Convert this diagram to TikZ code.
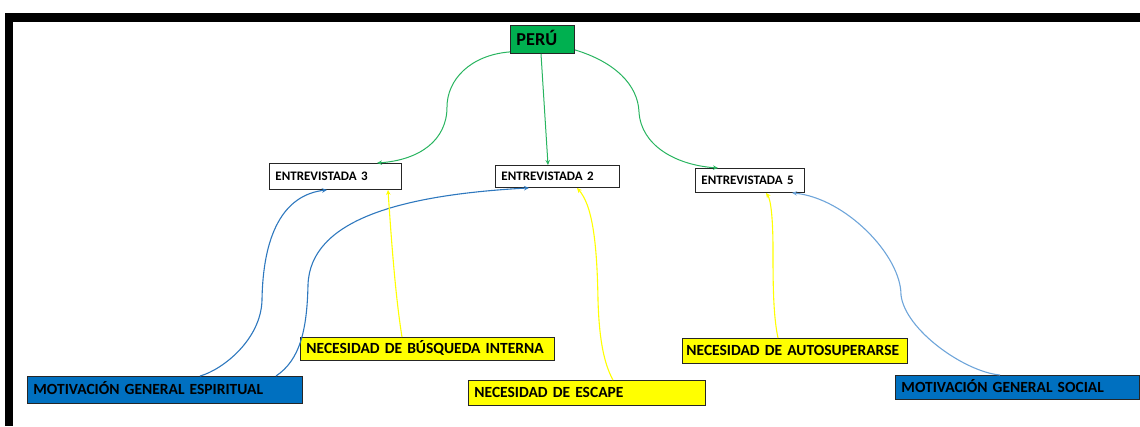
\documentclass[tikz,border=0pt]{standalone}
\usepackage{fontspec}
\setmainfont{Carlito}
\usetikzlibrary{arrows.meta}
\definecolor{pgreen}{RGB}{0,176,80}
\definecolor{gline}{RGB}{40,180,95}
\definecolor{pyellow}{RGB}{255,255,0}
\definecolor{pblue}{RGB}{0,112,192}
\definecolor{bline}{RGB}{46,120,190}
\definecolor{lbline}{RGB}{110,165,218}
\tikzset{
  box/.style={draw=black!85, line width=0.9pt, anchor=north west, inner xsep=6pt, inner ysep=0pt, align=left, text depth=0pt},
  small/.style={box, fill=white, font=\fontsize{13}{15}\selectfont\bfseries, text height=8.4pt},
  big/.style={box, font=\fontsize{15.5}{18}\selectfont\bfseries, text height=10pt},
  tipA/.style={-{Stealth[length=5pt,width=4.5pt]}},
  greenconn/.style={tipA, draw=gline, line width=1pt},
  blueconn/.style={tipA, draw=bline, line width=1.1pt},
  lblueconn/.style={tipA, draw=lbline, line width=1.1pt},
  yellowconn/.style={tipA, draw=pyellow, line width=1.1pt}
}
\begin{document}
\begin{tikzpicture}[x=1pt,y=-1pt]
\useasboundingbox (0,0) rectangle (1140,426);
% frame
\fill[black] (5,13) rectangle (1140,22);
\fill[black] (5,13) rectangle (13,426);
% nodes
\node[box, fill=pgreen, text width=52pt, minimum height=28pt, font=\fontsize{18.2}{20}\selectfont\bfseries, text height=11.7pt] (peru) at (510,25) {PERÚ};
\node[small, text width=120pt, minimum height=26pt] (e3) at (269,163) {ENTREVISTADA 3};
\node[small, text width=112pt, minimum height=22pt] (e2) at (495,165) {ENTREVISTADA 2};
\node[small, text width=97pt, minimum height=24pt] (e5) at (695,168) {ENTREVISTADA 5};
\node[big, fill=pyellow, text width=242pt, minimum height=23pt] (nbi) at (300,337) {NECESIDAD DE BÚSQUEDA INTERNA};
\node[big, fill=pblue, text width=263pt, minimum height=27pt] (esp) at (27,376) {MOTIVACIÓN GENERAL ESPIRITUAL};
\node[big, fill=pyellow, text width=225pt, minimum height=25pt] (esc) at (468,380) {NECESIDAD DE ESCAPE};
\node[big, fill=pyellow, inner xsep=4pt, text width=217pt, minimum height=25pt] (aut) at (682,338) {NECESIDAD DE AUTOSUPERARSE};
\node[big, fill=pblue, text width=232pt, minimum height=24pt] (soc) at (895,375) {MOTIVACIÓN GENERAL SOCIAL};
% green connectors
\draw[greenconn] ([yshift=2pt]peru.south west) .. controls (470,55) and (447,80) .. (447,107) .. controls (447,140) and (420,160) .. ([xshift=108pt]e3.north west);
\draw[greenconn] ([xshift=31pt]peru.south west) -- ([xshift=53pt]e2.north west);
\draw[greenconn] ([yshift=4pt]peru.south east) .. controls (615,62) and (638,85) .. (639,112) .. controls (641,145) and (675,165) .. ([xshift=23pt]e5.north west);
% blue connectors
\draw[blueconn] ([xshift=173pt]esp.north west) .. controls (222,370) and (261,340) .. (262,300) .. controls (263,235) and (283,195) .. ([xshift=58pt]e3.south west);
\draw[blueconn] ([xshift=249pt]esp.north west) .. controls (300,360) and (307,330) .. (308,285) .. controls (310,220) and (400,195) .. ([xshift=34pt]e2.south west);
\draw[lblueconn] ([xshift=105pt]soc.north west) .. controls (965,372) and (905,330) .. (901,295) .. controls (901,255) and (845,198) .. ([xshift=97pt]e5.south west);
% yellow connectors
\draw[yellowconn] ([xshift=102pt]nbi.north west) .. controls (396,300) and (392,250) .. ([xshift=119pt]e3.south west);
\draw[yellowconn] ([xshift=145pt]esc.north west) .. controls (603,362) and (599,335) .. (598,300) .. controls (597,240) and (592,205) .. ([xshift=82pt]e2.south west);
\draw[yellowconn] ([xshift=96pt]aut.north west) .. controls (773,315) and (773,280) .. (773,250) .. controls (773,220) and (771,200) .. ([xshift=71pt]e5.south west);
\end{tikzpicture}
\end{document}
